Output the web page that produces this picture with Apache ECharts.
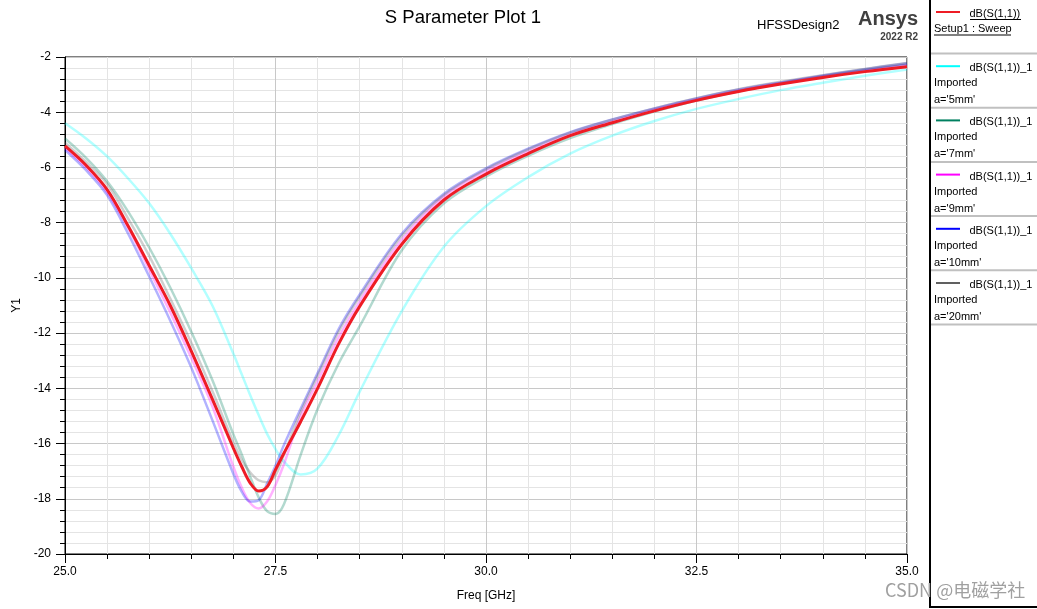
<html>
  <head>
    <meta charset="utf-8">
    <title>S Parameter Plot 1</title>
    <script src="https://cdn.jsdelivr.net/npm/echarts@6.0.0/dist/echarts.min.js"></script>
    <style>
      html, body { margin: 0; padding: 0; background: #fff; }
      #main { width: 1037px; height: 609px; }
    </style>
  </head>
  <body>
    <div id="main"></div>
    <script type="text/javascript">
      // frequency points (GHz), shared by all traces
      var freq = [25, 25.25, 25.5, 25.75, 26, 26.25, 26.5, 26.75, 27, 27.1, 27.2, 27.3, 27.4, 27.5, 27.6, 27.8, 28,
                  28.25, 28.5, 29, 29.5, 30, 30.5, 31, 31.5, 32, 32.5, 33, 33.5, 34, 34.5, 35];

      // dB(S(1,1)) Setup1 : Sweep
      var s11Sweep = [-5.22, -5.92, -6.8, -8.12, -9.55, -11.0, -12.65, -14.39, -16.17, -16.84, -17.43, -17.72, -17.57, -16.95, -16.35, -15.2, -14.0,
                      -12.39, -11.03, -8.78, -7.18, -6.24, -5.5, -4.85, -4.38, -3.95, -3.57, -3.25, -2.98, -2.74, -2.53, -2.35];
      // imported a='5mm'
      var s11A5 = [-4.4, -4.95, -5.6, -6.4, -7.3, -8.4, -9.65, -11.0, -12.75, -13.5, -14.25, -14.97, -15.65, -16.2, -16.65, -17.12, -16.9,
                   -15.7, -14.12, -11.2, -8.87, -7.4, -6.35, -5.5, -4.85, -4.32, -3.88, -3.52, -3.2, -2.93, -2.68, -2.45];
      // imported a='7mm'
      var s11A7 = [-4.95, -5.65, -6.5, -7.6, -8.9, -10.35, -11.95, -13.7, -15.67, -16.4, -17.2, -17.95, -18.45, -18.55, -18.2, -16.4, -14.75,
                   -13.1, -11.75, -9.0, -7.3, -6.33, -5.58, -4.94, -4.43, -3.98, -3.58, -3.24, -2.96, -2.7, -2.47, -2.27];
      // imported a='9mm'
      var s11A9 = [-5.3, -6.0, -6.9, -8.2, -9.7, -11.25, -12.9, -14.65, -16.84, -17.6, -18.15, -18.35, -18.1, -17.5, -16.75, -15.0, -13.75,
                   -12.15, -10.85, -8.62, -7.06, -6.13, -5.42, -4.8, -4.33, -3.9, -3.53, -3.21, -2.94, -2.7, -2.49, -2.29];
      // imported a='10mm'
      var s11A10 = [-5.37, -6.1, -7.0, -8.4, -9.95, -11.55, -13.25, -15.15, -17.1, -17.75, -18.1, -18.05, -17.45, -16.8, -16.05, -14.73, -13.45,
                    -11.85, -10.6, -8.4, -6.95, -6.03, -5.32, -4.72, -4.26, -3.86, -3.5, -3.18, -2.92, -2.67, -2.44, -2.23];
      // imported a='20mm'
      var s11A20 = [-5.1, -5.8, -6.6, -7.85, -9.2, -10.75, -12.35, -14.1, -15.95, -16.6, -17.05, -17.33, -17.4, -17.15, -16.4, -14.85, -13.55,
                    -11.95, -10.68, -8.48, -7.0, -6.07, -5.35, -4.74, -4.27, -3.86, -3.49, -3.17, -2.9, -2.66, -2.43, -2.22];

      var traceNames = ['dB(S(1,1))', 'dB(S(1,1))_1', 'dB(S(1,1))_1', 'dB(S(1,1))_1', 'dB(S(1,1))_1', 'dB(S(1,1))_1'];
      var traceSub1 = ['Setup1 : Sweep', 'Imported', 'Imported', 'Imported', 'Imported', 'Imported'];
      var traceSub2 = ['', "a='5mm'", "a='7mm'", "a='9mm'", "a='10mm'", "a='20mm'"];
      var traceColors = ['#ee1c25', '#00ffff', '#008060', '#ff00ff', '#0000ff', '#606060'];

      var FONT = 'Arial, "Liberation Sans", sans-serif';

      function pairs(arr) {
        return freq.map(function (f, i) { return [f, arr[i]]; });
      }

      function lightLine(name, arr, color) {
        return {
          name: name,
          type: 'line',
          data: pairs(arr),
          showSymbol: false,
          smooth: 0.35,
          lineStyle: { color: color, width: 2.5, opacity: 0.3 },
          itemStyle: { color: color },
          emphasis: { disabled: true }
        };
      }

      // legend panel on the right, drawn by hand like HFSS does
      var legendEls = [];
      legendEls.push({
        type: 'rect', z: 10,
        shape: { x: 930, y: -2, width: 115, height: 609 },
        style: { fill: '#fff', stroke: '#000', lineWidth: 2 }
      });
      var rowH = 54.2;
      for (var i = 0; i < traceNames.length; i++) {
        var y0 = i * rowH;
        legendEls.push({
          type: 'line', z: 11,
          shape: { x1: 936, y1: y0 + 12, x2: 960, y2: y0 + 12 },
          style: { stroke: traceColors[i], lineWidth: 2 }
        });
        legendEls.push({
          type: 'text', z: 11,
          style: { x: 969.5, y: y0 + 14, text: traceNames[i], font: '11px ' + FONT, fill: '#000',
                   verticalAlign: 'middle', textVerticalAlign: 'middle' }
        });
        legendEls.push({
          type: 'text', z: 11,
          style: { x: 934, y: y0 + 29, text: traceSub1[i], font: '11px ' + FONT, fill: '#000',
                   verticalAlign: 'middle', textVerticalAlign: 'middle' }
        });
        if (traceSub2[i]) {
          legendEls.push({
            type: 'text', z: 11,
            style: { x: 934, y: y0 + 46, text: traceSub2[i], font: '11px ' + FONT, fill: '#000',
                     verticalAlign: 'middle', textVerticalAlign: 'middle' }
          });
        }
        legendEls.push({
          type: 'line', z: 11,
          shape: { x1: 931, y1: y0 + 53.5, x2: 1037, y2: y0 + 53.5 },
          style: { stroke: '#c0c0c0', lineWidth: 2 }
        });
      }
      // underlines of the active trace
      legendEls.push({ type: 'line', z: 11, shape: { x1: 970, y1: 19.5, x2: 1021, y2: 19.5 }, style: { stroke: '#000', lineWidth: 1 } });
      legendEls.push({ type: 'line', z: 11, shape: { x1: 934, y1: 35, x2: 1011, y2: 35 }, style: { stroke: '#000', lineWidth: 1 } });

      var chartDom = document.getElementById('main');
      var myChart = echarts.init(chartDom, null, { renderer: 'canvas' });
      var option;

      option = {
        animation: false,
        backgroundColor: '#fff',
        grid: {
          left: 65, top: 57, width: 842, height: 497,
          show: true, borderColor: '#000', borderWidth: 1, backgroundColor: 'transparent'
        },
        xAxis: {
          type: 'value',
          min: 25, max: 35, interval: 2.5,
          name: 'Freq [GHz]',
          nameLocation: 'middle',
          nameGap: 36,
          nameTextStyle: { fontFamily: FONT, fontSize: 12, color: '#000' },
          axisLine: { onZero: false, lineStyle: { color: '#000', width: 1 } },
          axisTick: { show: true, inside: false, length: 9, lineStyle: { color: '#000' } },
          minorTick: { show: true, splitNumber: 5, length: 5, lineStyle: { color: '#000' } },
          axisLabel: {
            margin: 12, color: '#000', fontFamily: FONT, fontSize: 12,
            formatter: function (v) { return v.toFixed(1); }
          },
          splitLine: { show: true, lineStyle: { color: '#c8c8c8', width: 1 } },
          minorSplitLine: { show: true, lineStyle: { color: '#e4e4e4', width: 1 } }
        },
        yAxis: {
          type: 'value',
          min: -20, max: -2, interval: 2,
          name: 'Y1',
          nameLocation: 'middle',
          nameGap: 37,
          nameRotate: 90,
          nameTextStyle: { fontFamily: FONT, fontSize: 12, color: '#000' },
          axisLine: { onZero: false, lineStyle: { color: '#000', width: 1 } },
          axisTick: { show: true, inside: false, length: 9, lineStyle: { color: '#000' } },
          minorTick: { show: true, splitNumber: 5, length: 5, lineStyle: { color: '#000' } },
          axisLabel: { margin: 14, color: '#000', fontFamily: FONT, fontSize: 12 },
          splitLine: { show: true, lineStyle: { color: '#c8c8c8', width: 1 } },
          minorSplitLine: { show: true, lineStyle: { color: '#e4e4e4', width: 1 } }
        },
        graphic: [
          {
            type: 'text', z: 5,
            style: { x: 463, y: 18, text: 'S Parameter Plot 1', font: '18.5px ' + FONT, fill: '#000',
                     align: 'center', textAlign: 'center', verticalAlign: 'middle', textVerticalAlign: 'middle' }
          },
          {
            type: 'text', z: 5,
            style: { x: 757, y: 25, text: 'HFSSDesign2', font: '13px ' + FONT, fill: '#000',
                     verticalAlign: 'middle', textVerticalAlign: 'middle' }
          },
          {
            type: 'text', z: 5,
            style: { x: 918, y: 19, text: 'Ansys', font: 'bold 20px ' + FONT, fill: '#404040',
                     align: 'right', textAlign: 'right', verticalAlign: 'middle', textVerticalAlign: 'middle' }
          },
          {
            type: 'text', z: 5,
            style: { x: 918, y: 37, text: '2022 R2', font: 'bold 10px ' + FONT, fill: '#404040',
                     align: 'right', textAlign: 'right', verticalAlign: 'middle', textVerticalAlign: 'middle' }
          }
        ].concat(legendEls).concat([
          {
            type: 'text', z: 20,
            style: { x: 885, y: 590, text: 'CSDN @电磁学社', font: '18px "Noto Sans CJK SC", sans-serif', fill: '#a0a0a0',
                     verticalAlign: 'middle', textVerticalAlign: 'middle' }
          }
        ]),
        series: [
          lightLine("a='5mm'", s11A5, traceColors[1]),
          lightLine("a='7mm'", s11A7, traceColors[2]),
          lightLine("a='9mm'", s11A9, traceColors[3]),
          lightLine("a='10mm'", s11A10, traceColors[4]),
          lightLine("a='20mm'", s11A20, traceColors[5]),
          {
            name: 'Setup1 : Sweep',
            type: 'line',
            data: pairs(s11Sweep),
            showSymbol: false,
            smooth: 0.35,
            z: 5,
            lineStyle: { color: traceColors[0], width: 3 },
            itemStyle: { color: traceColors[0] },
            emphasis: { disabled: true }
          }
        ]
      };

      option && myChart.setOption(option);
    </script>
  </body>
</html>
